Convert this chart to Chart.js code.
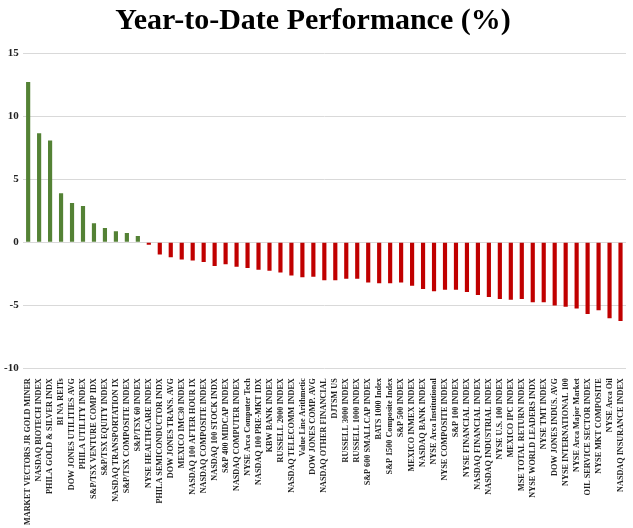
<!DOCTYPE html>
<html>
<head>
<meta charset="utf-8">
<script src="https://cdn.jsdelivr.net/npm/chart.js@4"></script>
<style>
  body { margin: 0; background: #fff; }
  #wrap { width: 633px; height: 528px; }
</style>
</head>
<body>
<div id="wrap"><canvas id="perfChart"></canvas></div>
<script>
const labels = [
  'MARKET VECTORS JR GOLD MINER', 'NASDAQ BIOTECH INDEX', 'PHILA GOLD & SILVER INDX', 'BI NA REITs',
  'DOW JONES UTILITIES AVG', 'PHILA UTILITY INDEX', 'S&P/TSX VENTURE COMP IDX', 'S&P/TSX EQUITY INDEX',
  'NASDAQ TRANSPORTATION IX', 'S&P/TSX COMPOSITE INDEX', 'S&P/TSX 60 INDEX', 'NYSE HEALTHCARE INDEX',
  'PHILA SEMICONDUCTOR INDX', 'DOW JONES TRANS. AVG', 'MEXICO IMC30 INDEX', 'NASDAQ 100 AFTER HOUR IX',
  'NASDAQ COMPOSITE INDEX', 'NASDAQ 100 STOCK INDX', 'S&P 400 MIDCAP INDEX', 'NASDAQ COMPUTER INDEX',
  'NYSE Arca Computer Tech', 'NASDAQ 100 PRE-MKT IDX', 'KBW BANK INDEX', 'RUSSELL 2000 INDEX',
  'NASDAQ TELECOMM INDEX', 'Value Line Arithmetic', 'DOW JONES COMP. AVG', 'NASDAQ OTHER FINANCIAL',
  'DJTSM US', 'RUSSELL 3000 INDEX', 'RUSSELL 1000 INDEX', 'S&P 600 SMALLCAP INDEX',
  'BATS 1000 Index', 'S&P 1500 Composite Index', 'S&P 500 INDEX', 'MEXICO INMEX INDEX',
  'NASDAQ BANK INDEX', 'NYSE Arca Institutional', 'NYSE COMPOSITE INDEX', 'S&P 100 INDEX',
  'NYSE FINANCIAL INDEX', 'NASDAQ FINANCIAL INDEX', 'NASDAQ INDUSTRIAL INDEX', 'NYSE U.S. 100 INDEX',
  'MEXICO IPC INDEX', 'MSE TOTAL RETURN INDEX', 'NYSE WORLD LEADERS INDX', 'NYSE TMT INDEX',
  'DOW JONES INDUS. AVG', 'NYSE INTERNATIONAL 100', 'NYSE Arca Major Market', 'OIL SERVICE SECTOR INDEX',
  'NYSE MKT COMPOSITE', 'NYSE Arca Oil', 'NASDAQ INSURANCE INDEX'
];

const ytd = [
  12.7, 8.63, 8.07, 3.88, 3.1, 2.86, 1.5, 1.12, 0.86, 0.72, 0.48, -0.2,
  -0.98, -1.2, -1.38, -1.45, -1.58, -1.9, -1.76, -1.95, -2.06, -2.19, -2.27, -2.41,
  -2.65, -2.78, -2.75, -3.02, -3.02, -2.91, -2.91, -3.21, -3.26, -3.26, -3.21, -3.45,
  -3.72, -3.9, -3.77, -3.77, -3.96, -4.2, -4.36, -4.52, -4.57, -4.52, -4.76, -4.76,
  -5.03, -5.13, -5.27, -5.7, -5.4, -6.04, -6.26
];

const yTicks = [-10, -5, 0, 5, 10, 15];

const green = '#548235';
const red = '#C00000';

const ctx = document.getElementById('perfChart').getContext('2d');
new Chart(ctx, {
  type: 'bar',
  data: {
    labels: labels,
    datasets: [{
      data: ytd,
      backgroundColor: ytd.map(v => v >= 0 ? green : red),
      barPercentage: 0.38,
      categoryPercentage: 1.0
    }]
  },
  options: {
    responsive: true,
    maintainAspectRatio: false,
    animation: false,
    layout: { padding: { left: 0, right: 7, top: 0, bottom: 1 } },
    plugins: {
      legend: { display: false },
      tooltip: { enabled: false },
      title: {
        display: true,
        text: 'Year-to-Date Performance (%)',
        color: '#000',
        font: { family: 'Liberation Serif', size: 30, weight: 'bold' },
        padding: { top: 3, bottom: 14 }
      }
    },
    scales: {
      x: {
        grid: { display: false },
        border: { display: false },
        ticks: {
          autoSkip: false,
          maxRotation: 90,
          minRotation: 90,
          padding: 2,
          color: '#222',
          font: { family: 'Liberation Serif', size: 8.2, weight: 'bold' }
        }
      },
      y: {
        min: -10,
        max: 15,
        afterBuildTicks: axis => { axis.ticks = yTicks.map(v => ({ value: v })); },
        grid: { color: '#d9d9d9', drawTicks: false, lineWidth: 1 },
        border: { display: false },
        ticks: {
          padding: 4,
          color: '#222',
          font: { family: 'Liberation Serif', size: 11, weight: 'bold' }
        }
      }
    }
  }
});
</script>
</body>
</html>
